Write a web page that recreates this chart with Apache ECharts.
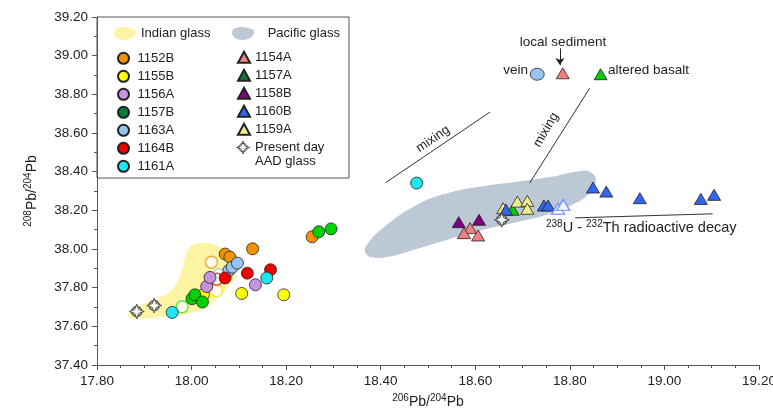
<!DOCTYPE html>
<html><head><meta charset="utf-8">
<script src="https://cdn.jsdelivr.net/npm/echarts@6/dist/echarts.min.js"></script>
<style>html,body{margin:0;padding:0;background:#fff}#c{width:773px;height:409px}</style>
</head><body><div id="c"></div>
<script>
// ---------- data ----------
const xMin = 17.8, xMax = 19.2, xStep = 0.2;
const yMin = 37.4, yMax = 39.2, yStep = 0.2;

const s1152B = [[18.071,37.974],[18.081,37.958],[18.129,38.001],[18.255,38.063]];
const s1152Bopen = [[18.042,37.932]];
const s1155B = [[18.025,37.763],[18.106,37.770],[18.195,37.763]];
const s1155Bopen = [[18.053,37.784]];
const s1156A = [[18.032,37.806],[18.039,37.853],[18.135,37.815]];
const s1157B = [[18.001,37.743],[18.007,37.763],[18.023,37.726],[18.269,38.089],[18.295,38.104]];
const s1157Bopen = [[17.980,37.701]];
const s1163A = [[18.079,37.889],[18.086,37.906],[18.097,37.927]];
const s1163Aopen = [[18.058,37.867]];
const s1164B = [[18.071,37.850],[18.118,37.875],[18.167,37.893]];
const s1164Bopen = [[18.053,37.844]];
const s1161A = [[17.959,37.672],[18.159,37.850],[18.476,38.341]];

const s1154A = [[18.589,38.108],[18.576,38.082],[18.606,38.070]];
const s1157A = [[18.679,38.203]];
const s1158B = [[18.565,38.139],[18.608,38.151]];
const s1159A = [[18.659,38.211],[18.689,38.245],[18.710,38.249],[18.710,38.208]];
const s1160B = [[18.665,38.203],[18.745,38.225],[18.754,38.225],[18.849,38.318],[18.877,38.297],[18.948,38.263],[19.077,38.259],[19.105,38.280]];
const s1160Bopen = [[18.775,38.208],[18.786,38.228]];
const aadGlass = [[17.884,37.677],[17.921,37.708],[18.656,38.151]];

const veinPt = [[18.731,38.904]];
const sedimentPt = [[18.785,38.909]];
const basaltPt = [[18.865,38.904]];

const indianOutline = [[18.007,38.025],[18.037,38.028],[18.066,37.998],[18.094,37.884],[18.080,37.812],[18.044,37.726],[18.007,37.674],[17.937,37.648],[17.895,37.640],[17.868,37.649],[17.871,37.679],[17.914,37.731],[17.955,37.782],[17.976,37.867],[17.988,37.970],[17.998,38.015]];
const pacificOutline = [[18.372,38.026],[18.403,38.105],[18.476,38.228],[18.546,38.292],[18.617,38.325],[18.687,38.348],[18.758,38.372],[18.814,38.400],[18.842,38.400],[18.855,38.358],[18.841,38.287],[18.807,38.232],[18.758,38.182],[18.687,38.138],[18.617,38.099],[18.546,38.052],[18.476,38.000],[18.419,37.961],[18.382,37.957],[18.367,37.985]];

const guideLines = [
  [[18.411,38.344],[18.631,38.708]],
  [[18.715,38.341],[18.842,38.832]],
  [[18.811,38.161],[19.102,38.182]]
];
const arrowLine = [[[18.779,39.038],[18.779,38.952]]];

// ---------- chart ----------
const FONT = "'Liberation Sans', Arial, Helvetica, sans-serif";
const TXT = '#222';
const blobIcon = 'path://M3,9 C0,4 5,0 13,1 C21,2 25,4 21,9 C17,14 6,14 3,9 Z';
const starPath = 'path://M0,-10 L2.6,-2.6 L10,0 L2.6,2.6 L0,10 L-2.6,2.6 L-10,0 L-2.6,-2.6 Z';
const aadIcon = 'path://M6.5,0 A6.5,6.5 0 1,1 -6.5,0 A6.5,6.5 0 1,1 6.5,0 Z M0,-10 L2.6,-2.6 L10,0 L2.6,2.6 L0,10 L-2.6,2.6 L-10,0 L-2.6,-2.6 Z';

function pts(name, data, symbol, color, size, open) {
  return {
    name, type: 'scatter', data, symbol, symbolSize: size,
    itemStyle: open ? {color: '#fff', borderColor: color, borderWidth: 1.5}
                    : {color, borderColor: '#222', borderWidth: 0.8, opacity: 1},
    emphasis: {disabled: true}, silent: true, z: 3
  };
}
function blob(name, outline, fill) {
  return {
    name, type: 'custom', data: [outline[0]], silent: true, z: 1,
    itemStyle: {color: fill},
    renderItem: (params, api) => ({
      type: 'polygon',
      shape: {points: outline.map(p => api.coord(p)), smooth: 0.45},
      style: {fill: fill}
    })
  };
}
const C = 12, T = [13, 11];
const legendText = {fontFamily: FONT, fontSize: 13, color: TXT};
const sup = {fontSize: 10, fontFamily: FONT, color: TXT, padding: [0, 0, 8, 0]};
const main = {fontSize: 14, fontFamily: FONT, color: TXT};

const chart = echarts.init(document.getElementById('c'));
chart.setOption({
  animation: false,
  backgroundColor: '#fff',
  grid: {left: 97, top: 17, right: 14, bottom: 44, containLabel: false, outerBoundsMode: 'none'},
  xAxis: {
    type: 'value', min: xMin, max: xMax, interval: xStep,
    name: '{s|206}{m|Pb/}{s|204}{m|Pb}', nameLocation: 'middle', nameGap: 26,
    nameTextStyle: {rich: {s: sup, m: main}},
    axisLine: {onZero: false, lineStyle: {color: '#555'}},
    axisTick: {length: 5, lineStyle: {color: '#555'}},
    minorTick: {show: true, splitNumber: 4, length: 3, lineStyle: {color: '#555'}},
    splitLine: {show: false},
    axisLabel: {fontFamily: FONT, fontSize: 13.5, color: TXT, margin: 9, formatter: v => v.toFixed(2)}
  },
  yAxis: {
    type: 'value', min: yMin, max: yMax, interval: yStep,
    name: '{s|208}{m|Pb/}{s|204}{m|Pb}', nameLocation: 'middle', nameGap: 56,
    nameTextStyle: {rich: {s: sup, m: main}},
    axisLine: {onZero: false, lineStyle: {color: '#555'}},
    axisTick: {length: 5, lineStyle: {color: '#555'}},
    minorTick: {show: true, splitNumber: 2, length: 3, lineStyle: {color: '#555'}},
    splitLine: {show: false},
    axisLabel: {fontFamily: FONT, fontSize: 13.5, color: TXT, margin: 9, formatter: v => v.toFixed(2)}
  },
  legend: [
    {data: [{name: 'Indian glass', icon: blobIcon}], left: 114, top: 27, padding: 0,
     itemWidth: 22, itemHeight: 13, textStyle: legendText, selectedMode: false},
    {data: [{name: 'Pacific glass', icon: blobIcon}], left: 232, top: 27, padding: 0,
     itemWidth: 23, itemHeight: 13, textStyle: Object.assign({padding: [0, 0, 0, 8]}, legendText), selectedMode: false},
    {data: ['1152B', '1155B', '1156A', {name: '1157B', itemStyle: {color: '#0b7a36'}}, '1163A', '1164B', '1161A'],
     orient: 'vertical', left: 117, top: 51.8, padding: 0, itemGap: 5,
     itemWidth: 18, itemHeight: 11, icon: 'circle', textStyle: legendText, selectedMode: false},
    {data: ['1154A', {name: '1157A', itemStyle: {color: '#0b7a36'}}, '1158B', '1160B', '1159A'],
     orient: 'vertical', left: 237, top: 50.8, padding: 0, itemGap: 5,
     itemWidth: 12, itemHeight: 11, icon: 'triangle', textStyle: legendText, selectedMode: false},
    {data: [{name: 'Present day AAD glass', icon: aadIcon, itemStyle: {color: '#fff', borderColor: '#333', borderWidth: 1}}],
     left: 236, top: 140.5, padding: 0,
     itemWidth: 14, itemHeight: 13, selectedMode: false,
     formatter: () => 'Present day', textStyle: legendText}
  ],
  graphic: [
    {type: 'rect', shape: {x: 97, y: 17, width: 252, height: 161}, style: {fill: 'none', stroke: '#555', lineWidth: 1}, z: 0},
    {type: 'text', x: 255, y: 161, style: {text: 'AAD glass', font: '13px ' + FONT, fill: TXT, align: 'left', verticalAlign: 'middle'}},
    {type: 'text', x: 563, y: 42, style: {text: 'local sediment', font: '13.5px ' + FONT, fill: TXT, align: 'center', verticalAlign: 'middle'}},
    {type: 'text', x: 528, y: 70, style: {text: 'vein', font: '13.5px ' + FONT, fill: TXT, align: 'right', verticalAlign: 'middle'}},
    {type: 'text', x: 608, y: 70, style: {text: 'altered basalt', font: '13.5px ' + FONT, fill: TXT, align: 'left', verticalAlign: 'middle'}},
    {type: 'text', x: 433, y: 139, rotation: 34 * Math.PI / 180, style: {text: 'mixing', font: '13px ' + FONT, fill: TXT, align: 'center', verticalAlign: 'middle'}},
    {type: 'text', x: 546, y: 130, rotation: 60 * Math.PI / 180, style: {text: 'mixing', font: '13px ' + FONT, fill: TXT, align: 'center', verticalAlign: 'middle'}},
    {type: 'text', x: 546, y: 228, style: {
      text: '{s|238}{m|U - }{s|232}{m|Th radioactive decay}', align: 'left', verticalAlign: 'middle',
      rich: {s: {fontSize: 10, fontFamily: FONT, fill: TXT, padding: [0, 0, 8, 0]}, m: {fontSize: 14.5, fontFamily: FONT, fill: TXT}}
    }}
  ],
  series: [
    blob('Indian glass', indianOutline, '#fdf5a3'),
    blob('Pacific glass', pacificOutline, '#bdc8d7'),
    {type: 'lines', coordinateSystem: 'cartesian2d', silent: true, z: 2,
     data: guideLines.map(c => ({coords: c})), lineStyle: {color: '#333', width: 1, opacity: 1}},
    {type: 'lines', coordinateSystem: 'cartesian2d', silent: true, z: 2,
     data: arrowLine.map(c => ({coords: c})), symbol: ['none', 'arrow'], symbolSize: 7,
     lineStyle: {color: '#222', width: 1, opacity: 1}},
    pts('o1152B', s1152Bopen, 'circle', '#f39a1e', C, true),
    pts('o1155B', s1155Bopen, 'circle', '#f2e600', C, true),
    pts('o1157B', s1157Bopen, 'circle', '#33dd33', C, true),
    pts('o1163A', s1163Aopen, 'circle', '#9cc6f0', C, true),
    pts('o1164B', s1164Bopen, 'circle', '#ee2222', C, true),
    pts('1152B', s1152B, 'circle', '#f39200', C),
    pts('1155B', s1155B, 'circle', '#ffff00', C),
    pts('1156A', s1156A, 'circle', '#c693e0', C),
    pts('1163A', s1163A, 'circle', '#99c4f0', C),
    pts('1164B', s1164B, 'circle', '#ee0000', C),
    pts('1157B', s1157B, 'circle', '#00d200', C),
    pts('1161A', s1161A, 'circle', '#1ee6f0', C),
    pts('1154A', s1154A, 'triangle', '#f28080', T),
    pts('1158B', s1158B, 'triangle', '#800080', T),
    pts('1157A', s1157A, 'triangle', '#00cc00', T),
    pts('1159A', s1159A, 'triangle', '#f3ee90', T),
    pts('1160B', s1160B, 'triangle', '#3366ee', T),
    pts('o1160B', s1160Bopen, 'triangle', '#6688ff', T, true),
    pts('vein', veinPt, 'circle', '#99c4f0', [14, 12]),
    pts('sediment', sedimentPt, 'triangle', '#f28080', T),
    pts('basalt', basaltPt, 'triangle', '#00cc00', T),
    {name: 'Present day AAD glass', type: 'scatter', data: aadGlass, symbol: 'circle', symbolSize: 10,
     itemStyle: {color: '#e6e6e6', borderColor: '#333', borderWidth: 1.5}, silent: true, z: 4},
    {name: 'Present day AAD glass', type: 'scatter', data: aadGlass, symbol: starPath, symbolSize: 15,
     itemStyle: {color: '#fff', borderColor: '#333', borderWidth: 1}, silent: true, z: 4}
  ]
});
</script>
</body></html>
